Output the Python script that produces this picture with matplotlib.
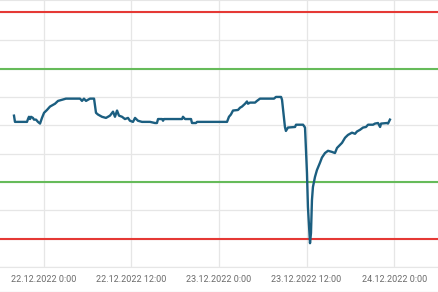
import matplotlib
matplotlib.use("Agg")
import matplotlib.pyplot as plt
import matplotlib.dates as mdates
from matplotlib.lines import Line2D
import pandas as pd

# readings (time, value)
times = [
    "2022-12-21 19:55", "2022-12-21 20:03", "2022-12-21 21:01", "2022-12-21 21:42",
    "2022-12-21 21:50", "2022-12-21 21:58", "2022-12-21 22:07", "2022-12-21 22:15",
    "2022-12-21 22:31", "2022-12-21 22:39", "2022-12-21 22:56", "2022-12-21 23:12",
    "2022-12-21 23:29", "2022-12-21 23:45", "2022-12-22 00:02", "2022-12-22 00:26",
    "2022-12-22 00:51", "2022-12-22 01:32", "2022-12-22 01:57", "2022-12-22 02:30",
    "2022-12-22 03:02", "2022-12-22 04:58", "2022-12-22 05:14", "2022-12-22 05:30",
    "2022-12-22 05:47", "2022-12-22 06:03", "2022-12-22 06:20", "2022-12-22 06:53",
    "2022-12-22 07:09", "2022-12-22 07:25", "2022-12-22 07:58", "2022-12-22 08:31",
    "2022-12-22 09:04", "2022-12-22 09:29", "2022-12-22 09:45", "2022-12-22 10:02",
    "2022-12-22 10:18", "2022-12-22 10:43", "2022-12-22 11:07", "2022-12-22 11:32",
    "2022-12-22 11:48", "2022-12-22 12:13", "2022-12-22 12:30", "2022-12-22 12:54",
    "2022-12-22 13:27", "2022-12-22 14:33", "2022-12-22 15:14", "2022-12-22 15:30",
    "2022-12-22 15:39", "2022-12-22 16:12", "2022-12-22 16:20", "2022-12-22 16:28",
    "2022-12-22 18:56", "2022-12-22 19:04", "2022-12-22 19:21", "2022-12-22 20:10",
    "2022-12-22 20:18", "2022-12-22 20:51", "2022-12-22 20:59", "2022-12-23 01:06",
    "2022-12-23 01:22", "2022-12-23 01:38", "2022-12-23 01:55", "2022-12-23 02:36",
    "2022-12-23 02:53", "2022-12-23 03:09", "2022-12-23 03:34", "2022-12-23 03:50",
    "2022-12-23 03:58", "2022-12-23 04:15", "2022-12-23 04:56", "2022-12-23 05:12",
    "2022-12-23 05:37", "2022-12-23 07:32", "2022-12-23 07:48", "2022-12-23 08:30",
    "2022-12-23 08:38", "2022-12-23 09:02", "2022-12-23 09:10", "2022-12-23 09:27",
    "2022-12-23 10:25", "2022-12-23 10:33", "2022-12-23 11:31", "2022-12-23 11:47",
    "2022-12-23 12:03", "2022-12-23 12:11", "2022-12-23 12:28", "2022-12-23 12:36",
    "2022-12-23 12:44", "2022-12-23 12:52", "2022-12-23 13:09", "2022-12-23 13:25",
    "2022-12-23 13:50", "2022-12-23 14:06", "2022-12-23 14:31", "2022-12-23 14:56",
    "2022-12-23 15:29", "2022-12-23 15:53", "2022-12-23 16:10", "2022-12-23 16:51",
    "2022-12-23 17:16", "2022-12-23 17:40", "2022-12-23 18:13", "2022-12-23 18:38",
    "2022-12-23 18:54", "2022-12-23 19:19", "2022-12-23 19:44", "2022-12-23 20:08",
    "2022-12-23 20:25", "2022-12-23 21:06", "2022-12-23 21:22", "2022-12-23 21:47",
    "2022-12-23 22:04", "2022-12-23 22:12", "2022-12-23 23:01", "2022-12-23 23:09",
    "2022-12-23 23:25",
]
values = [
    4.17, 4.06, 4.06, 4.06, 4.11, 4.15, 4.11, 4.15, 4.13, 4.10, 4.10, 4.06,
    4.03, 4.13, 4.22, 4.27, 4.33, 4.38, 4.43, 4.45, 4.47, 4.47, 4.43, 4.47,
    4.43, 4.45, 4.47, 4.47, 4.22, 4.19, 4.15, 4.13, 4.17, 4.24, 4.15, 4.26,
    4.17, 4.15, 4.11, 4.13, 4.08, 4.06, 4.13, 4.08, 4.06, 4.06, 4.04, 4.04,
    4.11, 4.11, 4.08, 4.11, 4.11, 4.15, 4.11, 4.11, 4.04, 4.04, 4.06, 4.06,
    4.15, 4.19, 4.26, 4.27, 4.31, 4.33, 4.38, 4.42, 4.38, 4.40, 4.40, 4.43,
    4.47, 4.47, 4.50, 4.50, 4.45, 3.97, 3.90, 3.96, 3.97, 4.01, 4.01, 3.96,
    3.16, 2.56, 1.92, 2.10, 2.68, 2.91, 3.09, 3.21, 3.34, 3.43, 3.51, 3.55,
    3.53, 3.51, 3.60, 3.69, 3.78, 3.83, 3.87, 3.85, 3.89, 3.92, 3.96, 3.97,
    4.01, 4.01, 4.03, 4.04, 3.97, 4.03, 4.04, 4.03, 4.10,
]
limits_red = [2.0, 6.0]
limits_green = [3.0, 5.0]

t = pd.to_datetime(times)

fig = plt.figure(figsize=(4.38, 2.92), dpi=100)
ax = fig.add_axes([0, 25 / 292, 1, 267 / 292])

ax.plot(t, values, color="#1b5e80", lw=1.7, zorder=4, solid_joinstyle="round")
for v in limits_red:
    ax.axhline(v, color="#e53935", lw=1.5, zorder=3)
for v in limits_green:
    ax.axhline(v, color="#66bb5a", lw=1.5, zorder=3)

ax.set_xlim(pd.Timestamp("2022-12-21 18:00"), pd.Timestamp("2022-12-24 06:00"))
ax.set_ylim(1.5, 6.21)
ax.set_yticks([1.5, 2, 2.5, 3, 3.5, 4, 4.5, 5, 5.5, 6])
ax.xaxis.set_major_locator(mdates.HourLocator(byhour=[0, 12]))
ax.xaxis.set_major_formatter(plt.FuncFormatter(
    lambda x, pos: mdates.num2date(x).strftime("%d.%m.%Y ") + str(mdates.num2date(x).hour) + ":00"))
ax.grid(True, color="#e6e6e6", lw=0.9, zorder=0)
ax.tick_params(axis="y", left=False, labelleft=False)
ax.tick_params(axis="x", length=0, pad=6, labelsize=6.5, labelcolor="#6a6a6a")
for lbl in ax.get_xticklabels():
    lbl.set_family("Roboto")
for s in ["left", "right"]:
    ax.spines[s].set_visible(False)
ax.spines["bottom"].set_color("#e6e6e6")
ax.spines["top"].set_color("#e6e6e6")

fig.add_artist(Line2D([0, 1], [0.5 / 292, 0.5 / 292], color="#e6e6e6", lw=1))

fig.savefig("out.png", dpi=100)
